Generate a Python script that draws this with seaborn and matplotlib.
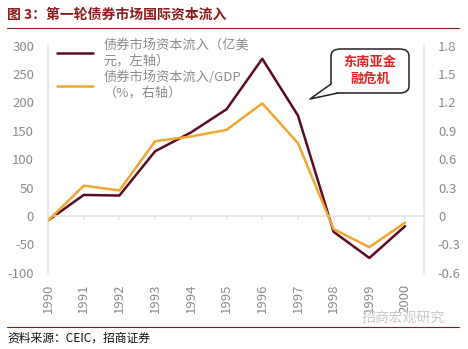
import numpy as np
import pandas as pd
import matplotlib
matplotlib.use("Agg")
import matplotlib.pyplot as plt
from matplotlib.patches import FancyBboxPatch, Polygon
import seaborn as sns

years = [1990, 1991, 1992, 1993, 1994, 1995, 1996, 1997, 1998, 1999, 2000]
flow_usd = [-8, 37, 36, 114, 147, 188, 277, 177, -28, -74, -18]
flow_gdp = [-0.05, 0.32, 0.27, 0.79, 0.84, 0.91, 1.19, 0.77, -0.14, -0.33, -0.07]
left_ticks = [-100, -50, 0, 50, 100, 150, 200, 250, 300]
right_ticks = [-0.6, -0.3, 0, 0.3, 0.6, 0.9, 1.2, 1.5, 1.8]
right_labels = ["-0.6", "-0.3", "0", "0.3", "0.6", "0.9", "1.2", "1.5", "1.8"]
label_usd = "债券市场资本流入（亿美\n元，左轴）"
label_gdp = "债券市场资本流入/GDP\n（%，右轴）"
title = "图 3：第一轮债券市场国际资本流入"
source = "资料来源：CEIC，招商证券"
callout = "东南亚金\n融危机"
watermark = "招商宏观研究"

sns.set_theme(style="white")
plt.rcParams['font.family'] = ['Noto Sans CJK SC', 'DejaVu Sans']

df = pd.DataFrame({"year": years, "usd": flow_usd, "gdp": flow_gdp})

W, H = 468, 349
fig = plt.figure(figsize=(W / 100, H / 100), dpi=100)
ax = fig.add_axes([48 / W, 1 - 272.7 / H, (424 - 48) / W, (272.7 - 45.7) / H])
ax2 = ax.twinx()

maroon = "#5a0c22"
orange = "#f2a531"
gray = "#8c8c8c"

sns.lineplot(data=df, x="year", y="usd", ax=ax, color=maroon, lw=1.8, label=label_usd, legend=False)
sns.lineplot(data=df, x="year", y="gdp", ax=ax2, color=orange, lw=1.8, label=label_gdp, legend=False)

ax.set_xlim(1990, 2000.53)
ax.set_ylim(-100, 300)
ax2.set_ylim(-0.6, 1.8)
ax.set_yticks(left_ticks)
ax.set_yticklabels([str(t) for t in left_ticks])
ax2.set_yticks(right_ticks)
ax2.set_yticklabels(right_labels)
ax.set_xlabel("")
ax.set_ylabel("")
ax2.set_ylabel("")

for a in (ax, ax2):
    for s in a.spines.values():
        s.set_visible(False)
ax.spines['left'].set_visible(True)
ax.spines['left'].set_color("#e6e6e6")
ax2.spines['right'].set_visible(True)
ax2.spines['right'].set_color("#e6e6e6")
ax.spines['bottom'].set_visible(True)
ax.spines['bottom'].set_position(('data', 0))
ax.spines['bottom'].set_color("#e6e6e6")

ax.set_xticks(years)
ax.tick_params(axis='x', bottom=True, length=3, color="#e6e6e6", labelbottom=False, direction='out')
ax.tick_params(axis='y', left=False, labelsize=9.5, labelcolor=gray, pad=4)
ax2.tick_params(axis='y', right=False, labelsize=9.5, labelcolor=gray, pad=4)

sec = ax.secondary_xaxis(0)
sec.set_xticks(years)
sec.set_xticklabels([str(y) for y in years], rotation=90, fontsize=9.5, color=gray)
sec.tick_params(length=0, pad=8)
sec.spines['bottom'].set_visible(False)

h1, l1 = ax.get_legend_handles_labels()
h2, l2 = ax2.get_legend_handles_labels()
leg = ax2.legend(h1 + h2, l1 + l2, loc='upper left', bbox_to_anchor=(0.0, 1.07), frameon=False,
                 fontsize=9.5, handlelength=2.7, labelcolor=gray, borderaxespad=0.3, labelspacing=0.3)

# callout bubble (figure pixel geometry)
def fx(x):
    return x / W

def fy(y):
    return 1 - y / H

box = FancyBboxPatch((fx(331), fy(93)), fx(409) - fx(331), fy(49) - fy(93),
                     boxstyle="round,pad=0,rounding_size=0.02", transform=fig.transFigure,
                     fc='white', ec='#222222', lw=1.1, zorder=10)
fig.add_artist(box)
ptr = Polygon([(fx(332), fy(84)), (fx(310), fy(99)), (fx(338), fy(92.2))], closed=True,
              transform=fig.transFigure, fc='white', ec='none', zorder=11)
fig.add_artist(ptr)
fig.add_artist(plt.Line2D([fx(331), fx(310), fx(338)], [fy(84), fy(99), fy(93)],
                          color='#222222', lw=1.1, zorder=12))
fig.text(fx(370), fy(71), callout, ha='center', va='center', fontsize=9.5, fontweight='bold',
         color="#e02424", zorder=13, linespacing=1.3)

fig.text(7 / W, 1 - 15 / H, title, fontsize=10, fontweight='bold', color="#8b1a1a", va='center', ha='left')
fig.add_artist(plt.Line2D([7 / W, 459 / W], [1 - 28 / H, 1 - 28 / H], color="#8b1a1a", lw=0.8))
fig.add_artist(plt.Line2D([7 / W, 459 / W], [1 - 327 / H, 1 - 327 / H], color="#8b1a1a", lw=0.8))
fig.text(7 / W, 1 - 338 / H, source, fontsize=8.5, color="#111111", va='center', ha='left')
fig.text(445 / W, 1 - 318 / H, watermark, fontsize=10, color="#c8c8c8", va='center', ha='right')

fig.savefig("out.png", dpi=100, facecolor='white')
